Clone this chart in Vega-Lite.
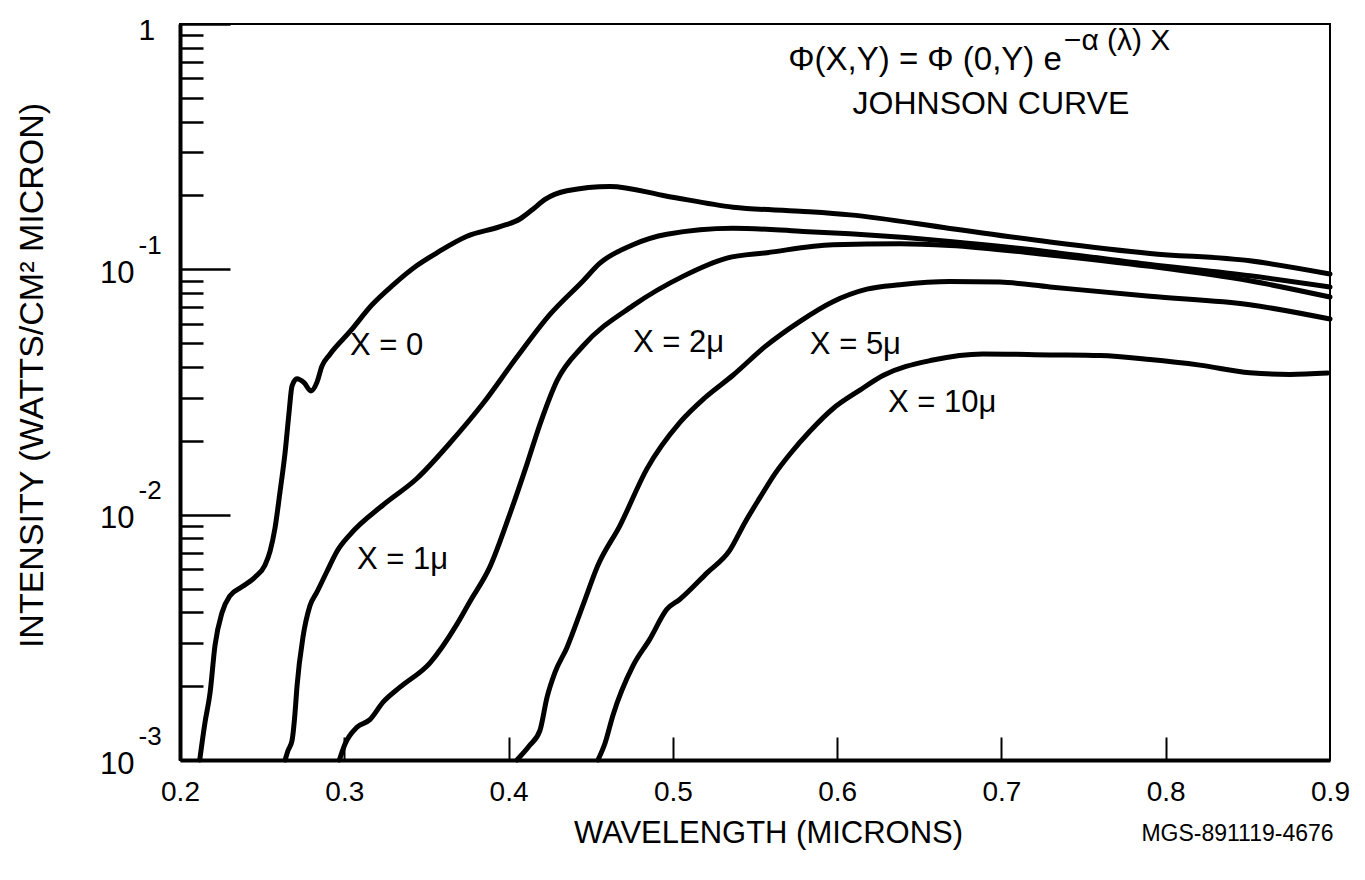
{
  "$schema": "https://vega.github.io/schema/vega-lite/v6.json",
  "width": 1150,
  "height": 736,
  "autosize": {"type": "none"},
  "padding": {"left": 180, "top": 24, "right": 35, "bottom": 120},
  "background": "white",
  "config": {
    "font": "Liberation Sans",
    "view": {"stroke": "black", "strokeWidth": 2},
    "axis": {"grid": false, "labelColor": "black", "titleColor": "black", "domainColor": "black", "tickColor": "black", "labelFont": "Liberation Sans", "titleFont": "Liberation Sans", "titleFontWeight": "normal"},
    "text": {"font": "Liberation Sans", "color": "black"}
  },
  "datasets": {
    "curves": [
      {"series": "X=0", "wavelength": 0.212, "intensity": 0.001},
      {"series": "X=0", "wavelength": 0.2152, "intensity": 0.00142},
      {"series": "X=0", "wavelength": 0.2183, "intensity": 0.00188},
      {"series": "X=0", "wavelength": 0.2213, "intensity": 0.00293},
      {"series": "X=0", "wavelength": 0.2256, "intensity": 0.00399},
      {"series": "X=0", "wavelength": 0.2304, "intensity": 0.00467},
      {"series": "X=0", "wavelength": 0.2377, "intensity": 0.00508},
      {"series": "X=0", "wavelength": 0.2456, "intensity": 0.00556},
      {"series": "X=0", "wavelength": 0.2517, "intensity": 0.00622},
      {"series": "X=0", "wavelength": 0.2548, "intensity": 0.00709},
      {"series": "X=0", "wavelength": 0.2578, "intensity": 0.00879},
      {"series": "X=0", "wavelength": 0.2609, "intensity": 0.01243},
      {"series": "X=0", "wavelength": 0.2639, "intensity": 0.01774},
      {"series": "X=0", "wavelength": 0.2663, "intensity": 0.0258},
      {"series": "X=0", "wavelength": 0.2682, "intensity": 0.0335},
      {"series": "X=0", "wavelength": 0.2712, "intensity": 0.0358},
      {"series": "X=0", "wavelength": 0.2755, "intensity": 0.0345},
      {"series": "X=0", "wavelength": 0.2797, "intensity": 0.03195},
      {"series": "X=0", "wavelength": 0.2834, "intensity": 0.0347},
      {"series": "X=0", "wavelength": 0.2864, "intensity": 0.0403},
      {"series": "X=0", "wavelength": 0.2913, "intensity": 0.0451},
      {"series": "X=0", "wavelength": 0.3035, "intensity": 0.0558},
      {"series": "X=0", "wavelength": 0.3169, "intensity": 0.0717},
      {"series": "X=0", "wavelength": 0.3296, "intensity": 0.0862},
      {"series": "X=0", "wavelength": 0.3442, "intensity": 0.1036},
      {"series": "X=0", "wavelength": 0.3564, "intensity": 0.1168},
      {"series": "X=0", "wavelength": 0.3747, "intensity": 0.1364},
      {"series": "X=0", "wavelength": 0.3948, "intensity": 0.1492},
      {"series": "X=0", "wavelength": 0.4069, "intensity": 0.1604},
      {"series": "X=0", "wavelength": 0.4148, "intensity": 0.1758},
      {"series": "X=0", "wavelength": 0.4222, "intensity": 0.1928},
      {"series": "X=0", "wavelength": 0.4355, "intensity": 0.2092},
      {"series": "X=0", "wavelength": 0.4617, "intensity": 0.2178},
      {"series": "X=0", "wavelength": 0.4964, "intensity": 0.1987},
      {"series": "X=0", "wavelength": 0.5366, "intensity": 0.1792},
      {"series": "X=0", "wavelength": 0.5774, "intensity": 0.1726},
      {"series": "X=0", "wavelength": 0.6078, "intensity": 0.1667},
      {"series": "X=0", "wavelength": 0.6686, "intensity": 0.1468},
      {"series": "X=0", "wavelength": 0.7295, "intensity": 0.1293},
      {"series": "X=0", "wavelength": 0.7904, "intensity": 0.1161},
      {"series": "X=0", "wavelength": 0.8512, "intensity": 0.1083},
      {"series": "X=0", "wavelength": 0.9, "intensity": 0.0957},

      {"series": "X=1", "wavelength": 0.264, "intensity": 0.001},
      {"series": "X=1", "wavelength": 0.2657, "intensity": 0.00109},
      {"series": "X=1", "wavelength": 0.2682, "intensity": 0.0012},
      {"series": "X=1", "wavelength": 0.27, "intensity": 0.00155},
      {"series": "X=1", "wavelength": 0.2712, "intensity": 0.00199},
      {"series": "X=1", "wavelength": 0.2749, "intensity": 0.00318},
      {"series": "X=1", "wavelength": 0.2791, "intensity": 0.00425},
      {"series": "X=1", "wavelength": 0.2834, "intensity": 0.00484},
      {"series": "X=1", "wavelength": 0.2895, "intensity": 0.00588},
      {"series": "X=1", "wavelength": 0.2956, "intensity": 0.0071},
      {"series": "X=1", "wavelength": 0.3035, "intensity": 0.0083},
      {"series": "X=1", "wavelength": 0.3236, "intensity": 0.01095},
      {"series": "X=1", "wavelength": 0.3442, "intensity": 0.01404},
      {"series": "X=1", "wavelength": 0.3643, "intensity": 0.01959},
      {"series": "X=1", "wavelength": 0.3844, "intensity": 0.02838},
      {"series": "X=1", "wavelength": 0.4051, "intensity": 0.0439},
      {"series": "X=1", "wavelength": 0.4252, "intensity": 0.0655},
      {"series": "X=1", "wavelength": 0.4453, "intensity": 0.0897},
      {"series": "X=1", "wavelength": 0.4556, "intensity": 0.1059},
      {"series": "X=1", "wavelength": 0.4757, "intensity": 0.126},
      {"series": "X=1", "wavelength": 0.4964, "intensity": 0.139},
      {"series": "X=1", "wavelength": 0.5366, "intensity": 0.1471},
      {"series": "X=1", "wavelength": 0.5774, "intensity": 0.143},
      {"series": "X=1", "wavelength": 0.6078, "intensity": 0.1395},
      {"series": "X=1", "wavelength": 0.6686, "intensity": 0.13},
      {"series": "X=1", "wavelength": 0.7295, "intensity": 0.1178},
      {"series": "X=1", "wavelength": 0.7904, "intensity": 0.1047},
      {"series": "X=1", "wavelength": 0.8512, "intensity": 0.0941},
      {"series": "X=1", "wavelength": 0.9, "intensity": 0.0847},

      {"series": "X=2", "wavelength": 0.297, "intensity": 0.001},
      {"series": "X=2", "wavelength": 0.3004, "intensity": 0.00116},
      {"series": "X=2", "wavelength": 0.3077, "intensity": 0.00136},
      {"series": "X=2", "wavelength": 0.3156, "intensity": 0.00146},
      {"series": "X=2", "wavelength": 0.3236, "intensity": 0.00172},
      {"series": "X=2", "wavelength": 0.3339, "intensity": 0.00198},
      {"series": "X=2", "wavelength": 0.3522, "intensity": 0.00249},
      {"series": "X=2", "wavelength": 0.3686, "intensity": 0.00358},
      {"series": "X=2", "wavelength": 0.3765, "intensity": 0.00443},
      {"series": "X=2", "wavelength": 0.3887, "intensity": 0.00614},
      {"series": "X=2", "wavelength": 0.4008, "intensity": 0.01007},
      {"series": "X=2", "wavelength": 0.4112, "intensity": 0.01607},
      {"series": "X=2", "wavelength": 0.4191, "intensity": 0.02335},
      {"series": "X=2", "wavelength": 0.4295, "intensity": 0.0352},
      {"series": "X=2", "wavelength": 0.4453, "intensity": 0.0487},
      {"series": "X=2", "wavelength": 0.4757, "intensity": 0.0711},
      {"series": "X=2", "wavelength": 0.5061, "intensity": 0.0936},
      {"series": "X=2", "wavelength": 0.5329, "intensity": 0.1111},
      {"series": "X=2", "wavelength": 0.5573, "intensity": 0.1169},
      {"series": "X=2", "wavelength": 0.5974, "intensity": 0.126},
      {"series": "X=2", "wavelength": 0.6382, "intensity": 0.1272},
      {"series": "X=2", "wavelength": 0.6686, "intensity": 0.1252},
      {"series": "X=2", "wavelength": 0.7295, "intensity": 0.1145},
      {"series": "X=2", "wavelength": 0.7904, "intensity": 0.1028},
      {"series": "X=2", "wavelength": 0.8512, "intensity": 0.0898},
      {"series": "X=2", "wavelength": 0.9, "intensity": 0.0771},

      {"series": "X=5", "wavelength": 0.4051, "intensity": 0.001},
      {"series": "X=5", "wavelength": 0.413, "intensity": 0.00115},
      {"series": "X=5", "wavelength": 0.4191, "intensity": 0.00132},
      {"series": "X=5", "wavelength": 0.4234, "intensity": 0.0018},
      {"series": "X=5", "wavelength": 0.4282, "intensity": 0.00227},
      {"series": "X=5", "wavelength": 0.4355, "intensity": 0.00287},
      {"series": "X=5", "wavelength": 0.4453, "intensity": 0.00428},
      {"series": "X=5", "wavelength": 0.4544, "intensity": 0.00622},
      {"series": "X=5", "wavelength": 0.4678, "intensity": 0.00903},
      {"series": "X=5", "wavelength": 0.4842, "intensity": 0.01537},
      {"series": "X=5", "wavelength": 0.5043, "intensity": 0.02377},
      {"series": "X=5", "wavelength": 0.5195, "intensity": 0.02996},
      {"series": "X=5", "wavelength": 0.5366, "intensity": 0.037},
      {"series": "X=5", "wavelength": 0.5561, "intensity": 0.0484},
      {"series": "X=5", "wavelength": 0.5774, "intensity": 0.0614},
      {"series": "X=5", "wavelength": 0.5974, "intensity": 0.0738},
      {"series": "X=5", "wavelength": 0.6181, "intensity": 0.083},
      {"series": "X=5", "wavelength": 0.6382, "intensity": 0.0866},
      {"series": "X=5", "wavelength": 0.6686, "intensity": 0.0893},
      {"series": "X=5", "wavelength": 0.6991, "intensity": 0.0887},
      {"series": "X=5", "wavelength": 0.7295, "intensity": 0.0848},
      {"series": "X=5", "wavelength": 0.7904, "intensity": 0.0776},
      {"series": "X=5", "wavelength": 0.8512, "intensity": 0.0717},
      {"series": "X=5", "wavelength": 0.9, "intensity": 0.0627},

      {"series": "X=10", "wavelength": 0.4544, "intensity": 0.001},
      {"series": "X=10", "wavelength": 0.4587, "intensity": 0.00117},
      {"series": "X=10", "wavelength": 0.4635, "intensity": 0.00152},
      {"series": "X=10", "wavelength": 0.4757, "intensity": 0.00242},
      {"series": "X=10", "wavelength": 0.486, "intensity": 0.00311},
      {"series": "X=10", "wavelength": 0.4964, "intensity": 0.00412},
      {"series": "X=10", "wavelength": 0.5043, "intensity": 0.00452},
      {"series": "X=10", "wavelength": 0.5208, "intensity": 0.00579},
      {"series": "X=10", "wavelength": 0.5347, "intensity": 0.00717},
      {"series": "X=10", "wavelength": 0.5439, "intensity": 0.0093},
      {"series": "X=10", "wavelength": 0.553, "intensity": 0.01173},
      {"series": "X=10", "wavelength": 0.5621, "intensity": 0.01467},
      {"series": "X=10", "wavelength": 0.5713, "intensity": 0.01767},
      {"series": "X=10", "wavelength": 0.5834, "intensity": 0.02188},
      {"series": "X=10", "wavelength": 0.5974, "intensity": 0.02703},
      {"series": "X=10", "wavelength": 0.6139, "intensity": 0.0322},
      {"series": "X=10", "wavelength": 0.6279, "intensity": 0.0369},
      {"series": "X=10", "wavelength": 0.6583, "intensity": 0.0427},
      {"series": "X=10", "wavelength": 0.6887, "intensity": 0.0452},
      {"series": "X=10", "wavelength": 0.7295, "intensity": 0.0448},
      {"series": "X=10", "wavelength": 0.76, "intensity": 0.0445},
      {"series": "X=10", "wavelength": 0.7904, "intensity": 0.0429},
      {"series": "X=10", "wavelength": 0.8208, "intensity": 0.0407},
      {"series": "X=10", "wavelength": 0.8512, "intensity": 0.0379},
      {"series": "X=10", "wavelength": 0.8756, "intensity": 0.0373},
      {"series": "X=10", "wavelength": 0.8987, "intensity": 0.0378}
    ],
    "labels": [
      {"label": "X = 0", "wavelength": 0.3035, "intensity": 0.0485},
      {"label": "X = 1μ", "wavelength": 0.3077, "intensity": 0.00656},
      {"label": "X = 2μ", "wavelength": 0.4757, "intensity": 0.0502},
      {"label": "X = 5μ", "wavelength": 0.5834, "intensity": 0.049},
      {"label": "X = 10μ", "wavelength": 0.6309, "intensity": 0.0284}
    ],
    "notes": [
      {"part": "eq", "label": "Φ(X,Y) = Φ (0,Y) e", "wavelength": 0.7368, "intensity": 0.713},
      {"part": "sup", "label": "−α (λ) X", "wavelength": 0.738, "intensity": 0.852},
      {"part": "name", "label": "JOHNSON CURVE", "wavelength": 0.6936, "intensity": 0.47}
    ]
  },
  "layer": [
    {
      "data": {"name": "curves"},
      "mark": {"type": "line", "interpolate": "monotone", "strokeWidth": 5, "color": "black", "strokeCap": "round", "strokeJoin": "round"},
      "encoding": {
        "x": {"field": "wavelength", "type": "quantitative",
          "scale": {"type": "linear", "domain": [0.2, 0.9], "nice": false, "zero": false},
          "axis": {"orient": "bottom", "values": [0.2, 0.3, 0.4, 0.5, 0.6, 0.7, 0.8, 0.9], "format": ".1f", "ticks": false, "domain": true, "domainWidth": 4, "labelFontSize": 28, "labelPadding": 18, "labelFlush": false, "labelOverlap": false, "labelBaseline": "top",
            "title": "WAVELENGTH (MICRONS)", "titleFontSize": 31, "titleX": 588, "titleY": 73, "titleAlign": "center", "titleBaseline": "middle"}},
        "y": {"field": "intensity", "type": "quantitative",
          "scale": {"type": "log", "domain": [0.001, 1], "nice": false},
          "axis": {"orient": "left", "values": [0.001, 0.01, 0.1], "labelExpr": "'10'", "ticks": false, "domain": true, "domainWidth": 4, "labelFontSize": 31, "labelPadding": 46, "labelAlign": "right", "labelBaseline": "middle", "labelOffset": 4, "labelOverlap": false, "labelFlush": false,
            "title": "INTENSITY (WATTS/CM² MICRON)", "titleFontSize": 34, "titleX": -148, "titleY": 351, "titleAngle": -90, "titleAlign": "center", "titleBaseline": "middle"}},
        "detail": {"field": "series"}
      }
    },
    {
      "data": {"name": "labels"},
      "mark": {"type": "text", "align": "left", "baseline": "middle", "fontSize": 31},
      "encoding": {
        "x": {"field": "wavelength", "type": "quantitative",
          "scale": {"type": "linear", "domain": [0.2, 0.9], "nice": false, "zero": false},
          "axis": {"orient": "bottom", "values": [0.3, 0.4, 0.5, 0.6, 0.7, 0.8], "labels": false, "domain": false, "ticks": true, "tickSize": -23, "tickWidth": 2,
            "title": "MGS-891119-4676", "titleFontSize": 23, "titleX": 1057, "titleY": 73, "titleAlign": "center", "titleBaseline": "middle"}},
        "y": {"field": "intensity", "type": "quantitative",
          "scale": {"type": "log", "domain": [0.001, 1], "nice": false},
          "axis": {"orient": "left", "values": [0.001, 0.01, 0.1, 1], "labelExpr": "datum.value == 1 ? '1' : datum.value == 0.1 ? '-1' : datum.value == 0.01 ? '-2' : '-3'", "ticks": false, "domain": false, "labelAlign": "left", "labelBaseline": "middle", "labelPadding": 42, "labelOverlap": false, "labelFlush": false,
            "labelFontSize": {"condition": {"test": "datum.value == 1", "value": 30}, "value": 26},
            "labelOffset": {"condition": {"test": "datum.value == 1", "value": 6}, "value": -24},
            "title": null}},
        "text": {"field": "label", "type": "nominal"}
      }
    },
    {
      "data": {"name": "notes"},
      "transform": [{"filter": "datum.part == 'eq'"}],
      "mark": {"type": "text", "align": "right", "baseline": "middle", "fontSize": 33},
      "encoding": {
        "x": {"field": "wavelength", "type": "quantitative", "scale": {"type": "linear", "domain": [0.2, 0.9], "nice": false, "zero": false}, "axis": null},
        "y": {"field": "intensity", "type": "quantitative",
          "scale": {"type": "log", "domain": [0.001, 1], "nice": false},
          "axis": {"orient": "left", "values": [0.001, 0.01, 0.1, 1], "labels": false, "domain": false, "ticks": true, "tickSize": -50, "tickWidth": 2.5, "title": null}},
        "text": {"field": "label", "type": "nominal"}
      }
    },
    {
      "data": {"name": "notes"},
      "transform": [{"filter": "datum.part == 'sup'"}],
      "mark": {"type": "text", "align": "left", "baseline": "middle", "fontSize": 30},
      "encoding": {
        "x": {"field": "wavelength", "type": "quantitative", "scale": {"type": "linear", "domain": [0.2, 0.9], "nice": false, "zero": false}, "axis": null},
        "y": {"field": "intensity", "type": "quantitative",
          "scale": {"type": "log", "domain": [0.001, 1], "nice": false},
          "axis": {"orient": "left", "values": [0.002, 0.003, 0.004, 0.005, 0.006, 0.007, 0.008, 0.009, 0.02, 0.03, 0.04, 0.05, 0.06, 0.07, 0.08, 0.09, 0.2, 0.3, 0.4, 0.5, 0.6, 0.7, 0.8, 0.9], "labels": false, "domain": false, "ticks": true, "tickSize": -23, "tickWidth": 2.5, "title": null}},
        "text": {"field": "label", "type": "nominal"}
      }
    },
    {
      "data": {"name": "notes"},
      "transform": [{"filter": "datum.part == 'name'"}],
      "mark": {"type": "text", "align": "center", "baseline": "middle", "fontSize": 32},
      "encoding": {
        "x": {"field": "wavelength", "type": "quantitative", "scale": {"type": "linear", "domain": [0.2, 0.9], "nice": false, "zero": false}, "axis": null},
        "y": {"field": "intensity", "type": "quantitative", "scale": {"type": "log", "domain": [0.001, 1], "nice": false}, "axis": null},
        "text": {"field": "label", "type": "nominal"}
      }
    }
  ],
  "resolve": {"axis": {"x": "independent", "y": "independent"}}
}
